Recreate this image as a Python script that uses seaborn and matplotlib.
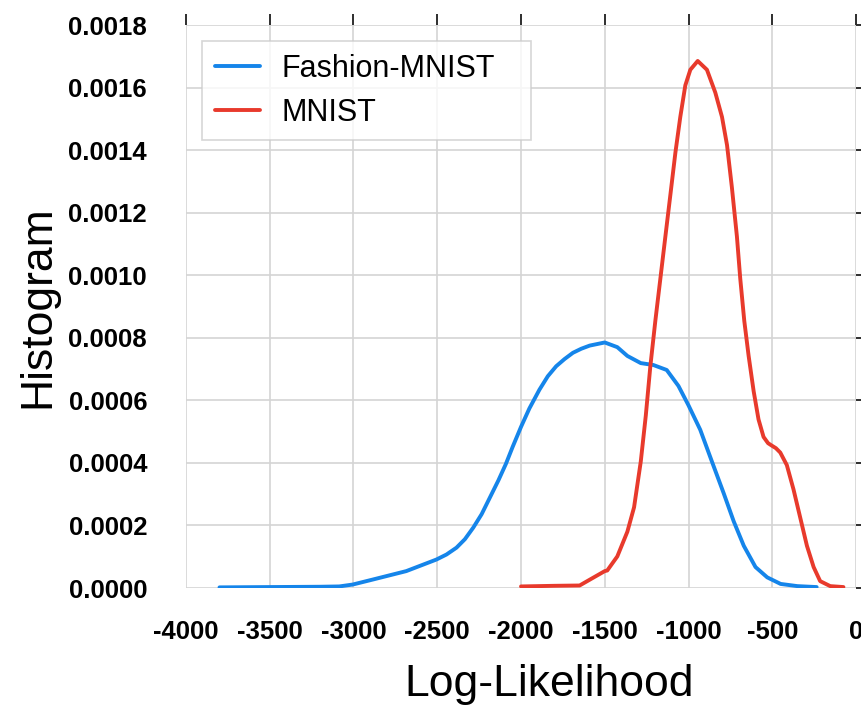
import matplotlib
matplotlib.use("Agg")
import matplotlib.pyplot as plt
import numpy as np
import pandas as pd
import seaborn as sns

# Density estimates of the model log-likelihood on each dataset
fashion_x = [-3800, -3500, -3200, -3085, -3005, -2885, -2685, -2505, -2445, -2385,
             -2335, -2285, -2235, -2185, -2135, -2090, -2050, -2000, -1950, -1890,
             -1840, -1790, -1740, -1690, -1640, -1590, -1500, -1425, -1365, -1285,
             -1210, -1130, -1060, -1000, -930, -860, -790, -730, -670, -600,
             -530, -450, -350, -235]
fashion_y = [0.000002, 0.000003, 0.000004, 0.000005, 0.000011, 0.000027, 0.000054,
             0.000091, 0.000107, 0.000129, 0.000156, 0.000193, 0.000236, 0.00029,
             0.000344, 0.000397, 0.000451, 0.000515, 0.000574, 0.000634, 0.000677,
             0.000709, 0.000732, 0.000752, 0.000765, 0.000775, 0.000785, 0.00077,
             0.000742, 0.000719, 0.000713, 0.000697, 0.000646, 0.000584, 0.000506,
             0.000404, 0.000303, 0.000213, 0.000135, 0.000067, 0.000034, 0.000013,
             0.000006, 0.000003]

mnist_x = [-2000, -1800, -1650, -1585, -1500, -1485, -1425, -1365, -1325, -1285,
           -1255, -1228, -1198, -1168, -1138, -1108, -1078, -1049, -1019, -989,
           -945, -890, -840, -800, -770, -741, -711, -691, -667, -641, -611,
           -582, -552, -525, -502, -478, -452, -413, -373, -333, -293, -253,
           -214, -154, -75]
mnist_y = [0.000005, 0.000007, 0.000008, 0.000028, 0.000054, 0.000056, 0.000101,
           0.00018, 0.000258, 0.000404, 0.000551, 0.000708, 0.000854, 0.000989,
           0.001124, 0.001258, 0.001393, 0.001506, 0.001607, 0.001657, 0.001685,
           0.001657, 0.001584, 0.001506, 0.001416, 0.001281, 0.001124, 0.000989,
           0.000854, 0.000742, 0.000629, 0.000539, 0.000483, 0.000463, 0.000455,
           0.000447, 0.000433, 0.000393, 0.000315, 0.000225, 0.000135, 0.000067,
           0.000022, 0.000006, 0.000003]

series_names = ["Fashion-MNIST", "MNIST"]
series_colors = {"Fashion-MNIST": "#1585ea", "MNIST": "#e83a2c"}

x_ticks = [-4000, -3500, -3000, -2500, -2000, -1500, -1000, -500, 0]
y_ticks = [0.0000, 0.0002, 0.0004, 0.0006, 0.0008, 0.0010, 0.0012, 0.0014,
           0.0016, 0.0018]

df = pd.concat([
    pd.DataFrame({"ll": fashion_x, "density": fashion_y, "data": series_names[0]}),
    pd.DataFrame({"ll": mnist_x, "density": mnist_y, "data": series_names[1]}),
], ignore_index=True)

sns.set_theme(style="white")
plt.rcParams["font.family"] = ["Liberation Sans", "DejaVu Sans"]

fig = plt.figure(figsize=(8.61, 7.06), dpi=100)
ax = fig.add_axes([186 / 861, 1 - 588 / 706, 670 / 861, 563 / 706])

sns.lineplot(data=df, x="ll", y="density", hue="data", hue_order=series_names,
             palette=series_colors, estimator=None, sort=False, linewidth=2.8,
             ax=ax)
for line in ax.get_lines():
    line.set_solid_joinstyle("round")
    line.set_solid_capstyle("round")

ax.set_xlim(-4000, 0)
ax.set_ylim(0, 0.0018)
ax.set_xticks(x_ticks)
ax.set_yticks(y_ticks)
ax.set_xticklabels([f"{v:d}" for v in x_ticks])
ax.set_yticklabels([f"{v:.4f}" for v in y_ticks])

ax.grid(True, color="#d4d4d4", linewidth=1.2)
ax.set_axisbelow(True)
for s in ax.spines.values():
    s.set_visible(False)

ax.tick_params(axis="both", which="major", direction="out", length=8, width=1.4,
               color="#2e2e2e", labelsize=18.5, top=True, right=True,
               labeltop=False, labelright=False)
ax.tick_params(axis="y", pad=20)
ax.tick_params(axis="x", pad=15)
for lab in ax.get_xticklabels() + ax.get_yticklabels():
    lab.set_fontweight("bold")
    lab.set_color("black")

ax.set_xlabel("Log-Likelihood", fontsize=32, color="black")
ax.set_ylabel("Histogram", fontsize=32, color="black")
ax.xaxis.set_label_coords(0.542, -0.135)
ax.yaxis.set_label_coords(-0.19, 0.5)

leg = ax.legend(loc="upper left", bbox_to_anchor=(16 / 670, 1 - 16 / 563, 329 / 670, 0.0),
                mode="expand", fontsize=22, frameon=True, fancybox=False,
                handlelength=1.47, handletextpad=0.7, borderpad=0.42,
                labelspacing=0.45, borderaxespad=0.0, title=None)
leg.get_frame().set_edgecolor("#cccccc")
leg.get_frame().set_linewidth(1.2)
for text in leg.get_texts():
    text.set_color("black")
for line in leg.get_lines():
    line.set_linewidth(2.8)

fig.savefig("out.png", dpi=100)
